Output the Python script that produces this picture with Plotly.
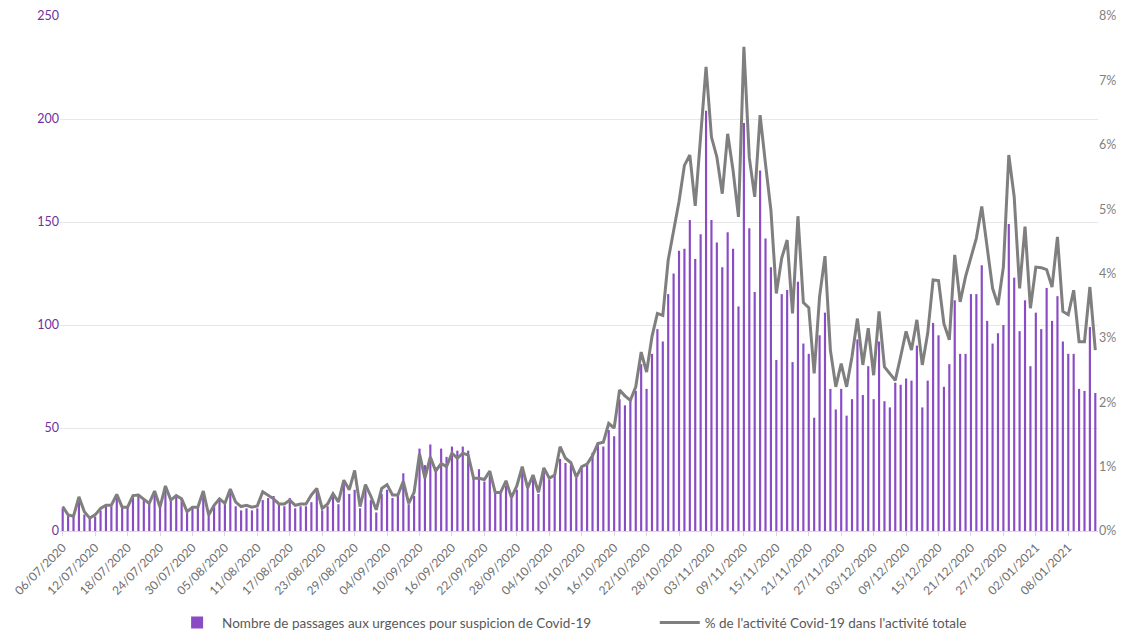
import pandas as pd
import plotly.graph_objects as go

# Daily categories: 06/07/2020 .. 13/01/2021
dates = [d.strftime("%d/%m/%Y") for d in pd.date_range("2020-07-06", "2021-01-13", freq="D")]

# Nombre de passages aux urgences pour suspicion de Covid-19
passages = [
    11, 8, 8, 16, 8, 6, 7, 10, 12, 12, 17, 12, 12, 17, 18, 15, 14, 19, 12, 21, 15, 17, 16, 9, 12, 12, 19, 8, 13, 16, 14, 19, 12,
    10, 11, 10, 11, 15, 16, 17, 13, 12, 16, 11, 12, 12, 14, 20, 10, 12, 17, 13, 24, 18, 20, 11, 21, 15, 9, 18, 20, 16, 17, 28, 13, 17,
    40, 32, 42, 31, 40, 36, 41, 39, 41, 39, 26, 30, 24, 27,
    18, 19, 22, 16, 20, 30, 22, 25, 18, 29, 25, 27, 35, 33, 32, 26, 31,
    32, 38, 43, 41, 49, 46, 64, 61, 64, 68, 81, 69, 86, 98, 92, 115, 125, 136, 137, 151, 132, 144, 204, 151, 140, 128, 145, 137, 109, 198, 147, 116, 175,
    142, 128, 83, 115, 117, 82, 121, 91, 86, 55, 95, 106, 69, 59, 69, 56, 64, 93, 66, 80, 64, 92, 63, 60, 72, 71, 74, 73, 90, 60, 73, 101,
    95, 70, 81, 112, 86, 86, 115, 115, 129, 102, 91, 96, 100, 149, 123, 97, 112, 80, 106, 98, 118, 102, 114, 92, 86, 86, 69, 68, 99, 67,
]

# % de l'activité Covid-19 dans l'activité totale
part_pct = [
    0.38, 0.25, 0.23, 0.53, 0.3, 0.2, 0.25, 0.35, 0.4, 0.4, 0.57, 0.37, 0.37, 0.55, 0.56, 0.5, 0.43, 0.62, 0.37, 0.7, 0.48, 0.55, 0.5, 0.3, 0.37, 0.37, 0.62, 0.25, 0.4, 0.5, 0.43, 0.65, 0.45,
    0.38, 0.4, 0.37, 0.39, 0.61, 0.56, 0.5, 0.42, 0.42, 0.48, 0.4, 0.42, 0.42, 0.56, 0.66, 0.35, 0.42, 0.58, 0.45, 0.79, 0.64, 0.94, 0.38, 0.72, 0.54, 0.33, 0.66, 0.72, 0.56, 0.56, 0.77, 0.43, 0.6,
    1.2, 0.82, 1.15, 0.93, 1.05, 1.0, 1.21, 1.13, 1.21, 1.18, 0.82, 0.82, 0.8, 0.93,
    0.6, 0.6, 0.78, 0.52, 0.7, 1.0, 0.67, 0.87, 0.6, 0.98, 0.82, 0.87, 1.31, 1.13, 1.06, 0.84, 1.0,
    1.04, 1.17, 1.36, 1.38, 1.67, 1.6, 2.19, 2.1, 2.03, 2.24, 2.78, 2.47, 3.02, 3.38, 3.35, 4.21, 4.65, 5.12, 5.68, 5.84, 5.05, 6.15, 7.21, 6.12, 5.81, 5.24, 6.17, 5.6, 4.88, 7.52, 5.8, 5.19, 6.46,
    5.7, 4.98, 3.69, 4.24, 4.52, 3.38, 4.89, 3.55, 3.47, 2.45, 3.64, 4.27, 2.81, 2.24, 2.6, 2.24, 2.71, 3.3, 2.58, 3.15, 2.42, 3.41, 2.55, 2.45, 2.34, 2.71, 3.1, 2.81, 3.28, 2.58, 3.07, 3.9,
    3.89, 3.22, 2.97, 4.29, 3.56, 3.95, 4.23, 4.55, 5.04, 4.42, 3.77, 3.51, 4.1, 5.84, 5.19, 3.77, 4.73, 3.46, 4.1, 4.09, 4.06, 3.79, 4.57, 3.41, 3.36, 3.74, 2.94, 2.94, 3.79, 2.81,
]

left_ticks = [0, 50, 100, 150, 200, 250]
right_ticks = [0, 1, 2, 3, 4, 5, 6, 7, 8]
right_ticktext = [f"{v}%" for v in right_ticks]
x_ticks = dates[::6]

FONT = "Lato, 'Open Sans', sans-serif"

fig = go.Figure()
fig.add_trace(go.Bar(
    x=dates, y=passages,
    name="Nombre de passages aux urgences pour suspicion de Covid-19",
    marker=dict(color="#8A4CC4", line=dict(width=0)),
    yaxis="y", legend="legend",
))
fig.add_trace(go.Scatter(
    x=dates, y=part_pct,
    name="% de l'activité Covid-19 dans l'activité totale",
    mode="lines",
    line=dict(color="#7F7F7F", width=3),
    yaxis="y2", legend="legend2",
))

legend_common = dict(
    orientation="h", yanchor="middle", y=-0.178, xanchor="left",
    font=dict(size=13.5, color="#595959"), itemwidth=40,
    bgcolor="rgba(0,0,0,0)",
)

fig.update_layout(
    width=1120, height=623,
    margin=dict(l=52, r=30, t=8, b=100, autoexpand=False),
    paper_bgcolor="white", plot_bgcolor="white",
    font=dict(family=FONT, color="#595959"),
    bargap=0.6,
    showlegend=True,
    legend=dict(x=0.108, **legend_common),
    legend2=dict(x=0.573, **legend_common),
    xaxis=dict(
        type="category", automargin=False,
        tickmode="array", tickvals=x_ticks, ticktext=x_ticks,
        tickangle=-45, tickfont=dict(size=12, color="#6E6E6E"),
        showgrid=False, showline=True, linecolor="#D9D9D9", linewidth=1,
        ticks="outside", ticklen=4, tickcolor="#D9D9D9",
        range=[-0.5, len(dates) - 0.5],
    ),
    yaxis=dict(
        range=[0, 250], tickvals=left_ticks, automargin=False,
        tickfont=dict(size=12.5, color="#7030A0"),
        showgrid=True, gridcolor="#E7E7E7", gridwidth=1,
        zeroline=False, showline=False, ticks="",
    ),
    yaxis2=dict(
        range=[0, 8], tickvals=right_ticks, ticktext=right_ticktext, automargin=False,
        overlaying="y", side="right",
        tickfont=dict(size=12.5, color="#7F7F7F"),
        showgrid=False, zeroline=False, showline=False, ticks="",
    ),
)

fig.write_html("out.html")
